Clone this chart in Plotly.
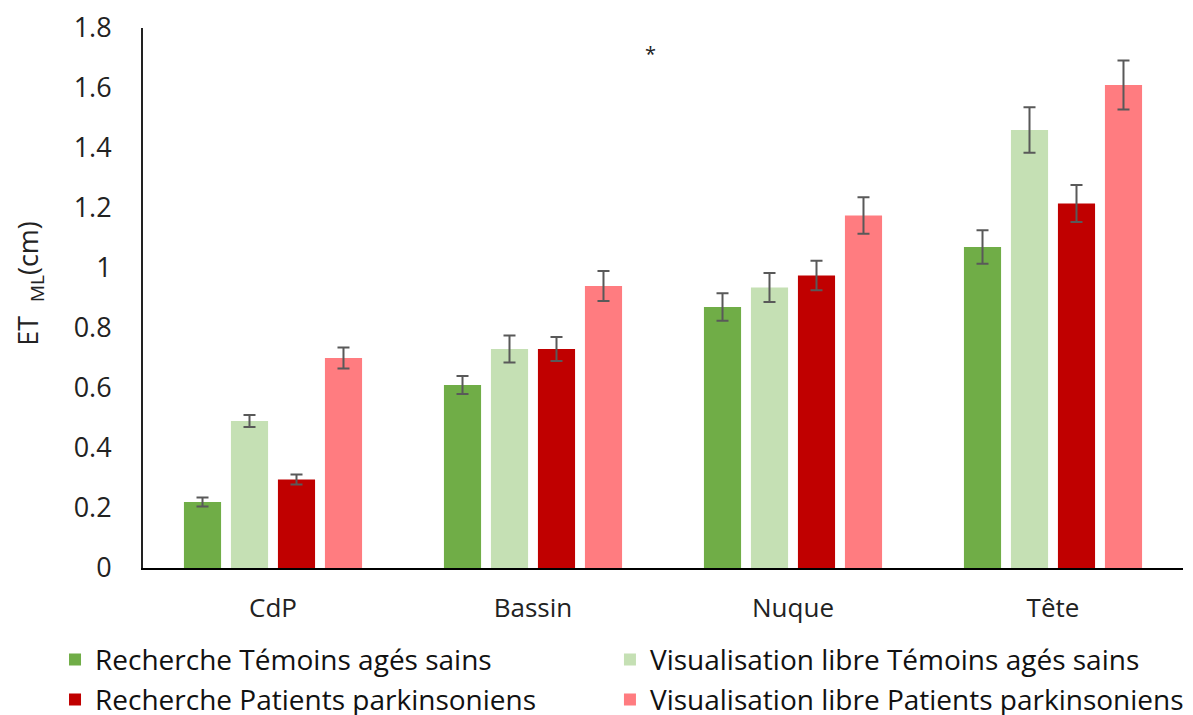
import plotly.graph_objects as go

categories = ["CdP", "Bassin", "Nuque", "Tête"]

series_names = [
    "Recherche Témoins agés sains",
    "Visualisation libre Témoins agés sains",
    "Recherche Patients parkinsoniens",
    "Visualisation libre Patients parkinsoniens",
]
recherche_temoins = [0.22, 0.61, 0.87, 1.07]
visu_temoins = [0.49, 0.73, 0.935, 1.46]
recherche_patients = [0.295, 0.73, 0.975, 1.215]
visu_patients = [0.70, 0.94, 1.175, 1.61]

err_recherche_temoins = [0.015, 0.03, 0.046, 0.056]
err_visu_temoins = [0.02, 0.045, 0.048, 0.076]
err_recherche_patients = [0.017, 0.04, 0.049, 0.062]
err_visu_patients = [0.035, 0.05, 0.061, 0.082]

colors = ["#70AD47", "#C5E0B4", "#C00000", "#FF7C80"]
legend_ids = ["legend", "legend2", "legend3", "legend4"]

values = [recherche_temoins, visu_temoins, recherche_patients, visu_patients]
errors = [err_recherche_temoins, err_visu_temoins, err_recherche_patients, err_visu_patients]

fig = go.Figure()
for name, vals, errs, col, lg in zip(series_names, values, errors, colors, legend_ids):
    fig.add_trace(go.Bar(
        x=categories, y=vals, name=name, legend=lg, showlegend=True,
        marker=dict(color=col, line=dict(width=0)),
        error_y=dict(type="data", array=errs, visible=True,
                     color="#595959", thickness=2, width=6),
    ))

fig.add_annotation(x=1.45, y=1.715, xref="x", yref="y", text="*",
                   showarrow=False, font=dict(size=20, color="#222222"))

# y-axis title as rotated annotation
fig.add_annotation(x=-0.1087, y=0.528, xref="paper", yref="paper",
                   text="ET  <sub>ML</sub>(cm)", textangle=-90, showarrow=False,
                   xanchor="center", yanchor="middle",
                   font=dict(size=27, color="#222222"))

legend_font = dict(size=28, family="Open Sans, sans-serif", color="#111111")
legend_common = dict(
    orientation="h", xanchor="left", yanchor="middle",
    font=legend_font, bgcolor="rgba(0,0,0,0)", visible=True,
)

x_left, x_right = -0.0846, 0.449
y_row1, y_row2 = -0.170, -0.244

fig.update_layout(
    width=1185, height=707,
    showlegend=True,
    paper_bgcolor="white", plot_bgcolor="white",
    margin=dict(l=135, r=10, t=20, b=147, autoexpand=False),
    barmode="group", bargap=0.277, bargroupgap=0.21,
    font=dict(family="Open Sans, Noto Sans, sans-serif", color="#222222"),
    legend=dict(x=x_left, y=y_row1, **legend_common),
    legend2=dict(x=x_right, y=y_row1, **legend_common),
    legend3=dict(x=x_left, y=y_row2, **legend_common),
    legend4=dict(x=x_right, y=y_row2, **legend_common),
    xaxis=dict(
        showline=True, linecolor="black", linewidth=2,
        tickfont=dict(size=26), ticks="", showgrid=False,
        range=[-0.5, 3.5], ticklabelstandoff=16,
    ),
    yaxis=dict(
        range=[0, 1.8], dtick=0.2, showgrid=False,
        showline=True, linecolor="#222222", linewidth=2,
        tickfont=dict(size=27), ticks="", ticklabelstandoff=24,
        zeroline=False,
    ),
)

fig.write_html("out.html")
